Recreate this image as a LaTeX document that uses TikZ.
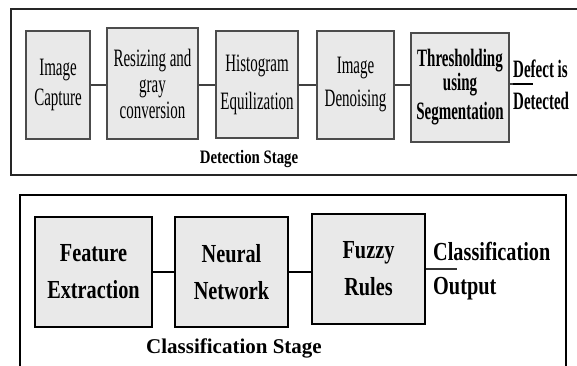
\documentclass[tikz,border=0pt]{standalone}
\usepackage{fontspec}
\setmainfont{Liberation Serif}
\newfontfamily\topfont[FakeStretch=0.6]{Liberation Serif}
\newfontfamily\botfont[FakeStretch=0.78]{Liberation Serif}

\newcommand{\theframes}{
    \draw[line width=2pt, black!85] (578,9) -- (11,9) -- (11,175) -- (578,175);
    \draw[line width=2.5pt] (20,366) -- (20,195) -- (566,195) -- (566,366);
}
\tikzset{x=1pt, y=-1pt,
    procbox/.style={draw=black!70, line width=1.3pt, fill=gray!17, align=center, inner sep=0pt,
        font=\topfont\fontsize{25}{26}\selectfont},
    clsbox/.style={draw, line width=2.5pt, fill=gray!17, align=center, inner sep=0pt,
        font=\botfont\bfseries\fontsize{26}{37}\selectfont},
    link/.style={black!75, line width=1.5pt}}

\begin{document}
\begin{tikzpicture}
                \useasboundingbox (0,0) rectangle (577,365);
                \theframes
                % detection stage
                \node[procbox, minimum width=64pt, minimum height=108pt] (cap) at (58,85) {Image\\[4pt]Capture};
                \node[procbox, minimum width=91pt, minimum height=111pt] (resize) at (152.5,83.5) {Resizing and\\gray\\conversion};
                \node[procbox, minimum width=82pt, minimum height=107pt] (histo) at (257,84.5) {Histogram\\[12pt]Equilization};
                \node[procbox, minimum width=77pt, minimum height=108pt] (denoise) at (355.5,85) {Image\\[7pt]Denoising};
                \node[procbox, minimum width=98pt, minimum height=109pt, font=\topfont\bfseries\fontsize{25}{26}\selectfont] (thresh) at (460,87.5) {Thresholding\\[-2pt]using\\[3pt]Segmentation};
                \draw[link] (cap.east) -- (cap.east -| resize.west);
                \draw[link] (resize.east |- cap.east) -- (cap.east -| histo.west);
                \draw[link] (histo.east |- cap.east) -- (cap.east -| denoise.west);
                \draw[link] (denoise.east |- cap.east) -- (cap.east -| thresh.west);
                \coordinate (defmid) at (513,84);
                \coordinate (defend) at (533,84);
                \draw[link] (thresh.east |- defmid) -- (defend);
                \draw[line width=2.5pt] (defmid) -- (defend);
                \node[anchor=west, inner sep=0pt, align=left, font=\topfont\bfseries\fontsize{25}{32}\selectfont] (defect) at (513,85) {Defect is\\Detected};
                \node[font=\botfont\bfseries\fontsize{19}{20}\selectfont] (detlabel) at (249,159) {Detection Stage};
                % classification stage
                \node[clsbox, minimum width=117pt, minimum height=110pt] (feat) at (93.5,272) {Feature\\Extraction};
                \node[clsbox, minimum width=113pt, minimum height=110pt] (nnet) at (231.5,272) {Neural\\Network};
                \node[clsbox, minimum width=113pt, minimum height=110pt] (fuzzy) at (368.5,269) {Fuzzy\\Rules};
                \draw[line width=2.5pt] (feat.east) -- (nnet.west);
                \draw[line width=2.5pt] (nnet.east) -- (nnet.east -| fuzzy.west);
                \coordinate (clsend) at (457,269);
                \draw[line width=2pt, black!80] (fuzzy.east) -- (clsend);
                \node[anchor=west, inner sep=0pt, align=left, font=\botfont\bfseries\fontsize{26}{34}\selectfont] (clsout) at (433,271) {Classification\\Output};
                \node[font=\bfseries\fontsize{21}{24}\selectfont] (clslabel) at (234,348) {Classification Stage};
            \end{tikzpicture}
\end{document}
